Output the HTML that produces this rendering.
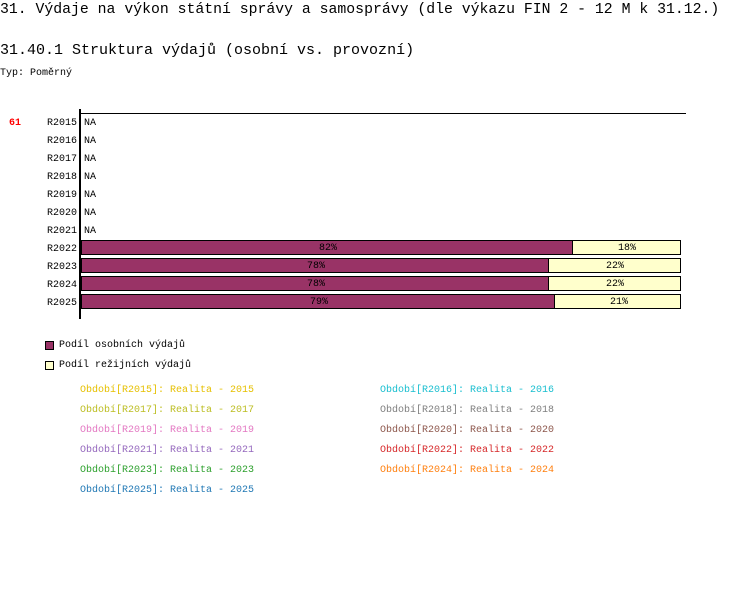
<!DOCTYPE html>
<html><head><meta charset="utf-8"><style>
body{margin:0;width:750px;height:608px;background:#fff;position:relative;font-family:"Liberation Mono",monospace;overflow:hidden}
.t{position:absolute;white-space:pre;font-size:10px;line-height:12px;color:#000}
.bar{position:absolute;height:15px;box-sizing:border-box;border:1px solid #000}
</style></head><body>
<div class="t" style="left:0;top:1px;font-size:14.8px;line-height:18px">31. Výdaje na výkon státní správy a samosprávy (dle výkazu FIN 2 - 12 M k 31.12.)</div>
<div class="t" style="left:0;top:42px;font-size:15px;line-height:18px">31.40.1 Struktura výdajů (osobní vs. provozní)</div>
<div class="t" style="left:0;top:68px">Typ: Poměrný</div>
<div class="t" style="left:9px;top:118px;color:#f00;font-weight:bold">61</div>
<div style="position:absolute;left:79px;top:109px;width:2px;height:210px;background:#000"></div>
<div style="position:absolute;left:79px;top:113px;width:607px;height:1px;background:#000"></div>
<div class="t" style="left:47px;top:118px">R2015</div><div class="t" style="left:84px;top:118px">NA</div>
<div class="t" style="left:47px;top:136px">R2016</div><div class="t" style="left:84px;top:136px">NA</div>
<div class="t" style="left:47px;top:154px">R2017</div><div class="t" style="left:84px;top:154px">NA</div>
<div class="t" style="left:47px;top:172px">R2018</div><div class="t" style="left:84px;top:172px">NA</div>
<div class="t" style="left:47px;top:190px">R2019</div><div class="t" style="left:84px;top:190px">NA</div>
<div class="t" style="left:47px;top:208px">R2020</div><div class="t" style="left:84px;top:208px">NA</div>
<div class="t" style="left:47px;top:226px">R2021</div><div class="t" style="left:84px;top:226px">NA</div>
<div class="t" style="left:47px;top:244px">R2022</div>
<div class="t" style="left:47px;top:262px">R2023</div>
<div class="t" style="left:47px;top:280px">R2024</div>
<div class="t" style="left:47px;top:298px">R2025</div>

<div class="bar" style="left:81px;top:240px;width:492px;background:#993366"></div>
<div class="bar" style="left:572px;top:240px;width:109px;background:#ffffcc"></div>
<div class="t" style="left:319px;top:243px">82%</div><div class="t" style="left:618px;top:243px">18%</div>

<div class="bar" style="left:81px;top:258px;width:468px;background:#993366"></div>
<div class="bar" style="left:548px;top:258px;width:133px;background:#ffffcc"></div>
<div class="t" style="left:307px;top:261px">78%</div><div class="t" style="left:606px;top:261px">22%</div>

<div class="bar" style="left:81px;top:276px;width:468px;background:#993366"></div>
<div class="bar" style="left:548px;top:276px;width:133px;background:#ffffcc"></div>
<div class="t" style="left:307px;top:279px">78%</div><div class="t" style="left:606px;top:279px">22%</div>

<div class="bar" style="left:81px;top:294px;width:474px;background:#993366"></div>
<div class="bar" style="left:554px;top:294px;width:127px;background:#ffffcc"></div>
<div class="t" style="left:310px;top:297px">79%</div><div class="t" style="left:610px;top:297px">21%</div>

<div style="position:absolute;left:45px;top:341px;width:7px;height:7px;border:1px solid #000;background:#993366"></div>
<div class="t" style="left:59px;top:340px">Podíl osobních výdajů</div>
<div style="position:absolute;left:45px;top:361px;width:7px;height:7px;border:1px solid #000;background:#ffffcc"></div>
<div class="t" style="left:59px;top:360px">Podíl režijních výdajů</div>

<div class="t" style="left:80px;top:385px;color:#e6c000">Období[R2015]: Realita - 2015</div>
<div class="t" style="left:380px;top:385px;color:#17becf">Období[R2016]: Realita - 2016</div>
<div class="t" style="left:80px;top:405px;color:#bcbd22">Období[R2017]: Realita - 2017</div>
<div class="t" style="left:380px;top:405px;color:#7f7f7f">Období[R2018]: Realita - 2018</div>
<div class="t" style="left:80px;top:425px;color:#e377c2">Období[R2019]: Realita - 2019</div>
<div class="t" style="left:380px;top:425px;color:#8c564b">Období[R2020]: Realita - 2020</div>
<div class="t" style="left:80px;top:445px;color:#9467bd">Období[R2021]: Realita - 2021</div>
<div class="t" style="left:380px;top:445px;color:#d62728">Období[R2022]: Realita - 2022</div>
<div class="t" style="left:80px;top:465px;color:#2ca02c">Období[R2023]: Realita - 2023</div>
<div class="t" style="left:380px;top:465px;color:#ff7f0e">Období[R2024]: Realita - 2024</div>
<div class="t" style="left:80px;top:485px;color:#1f77b4">Období[R2025]: Realita - 2025</div>
</body></html>
